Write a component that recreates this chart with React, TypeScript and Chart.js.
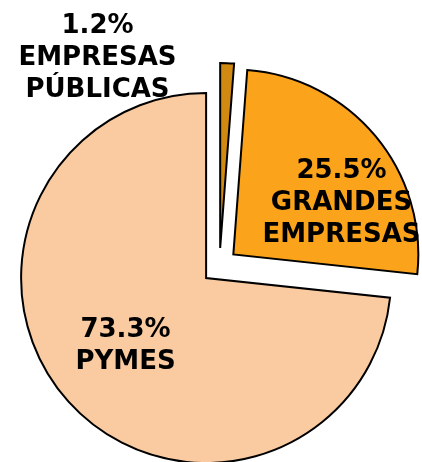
import React, { useEffect, useRef } from 'react';
import { Chart, PieController, ArcElement } from 'chart.js';

// ---- data ----
const categories = ['EMPRESAS PÚBLICAS', 'GRANDES EMPRESAS', 'PYMES'];
const values = [1.2, 25.5, 73.3];
const colors = ['#D08A12', '#FBA31A', '#FACBA0'];
const explode = [18, 18, 18];

// label block centres relative to pie centre (layout, not data)
const labelShift = [
  { dx: -122, dy: -210 },
  { dx: 122, dy: -65 },
  { dx: -94, dy: 78 },
];

// Make the arc offset a plain pull-out of `offset` px along the bisector
const baseDraw = ArcElement.prototype.draw;
(ArcElement.prototype as any).draw = function (ctx: CanvasRenderingContext2D) {
  const self: any = this;
  const opts = self.options;
  const off = opts.offset || 0;
  const half = (self.startAngle + self.endAngle) / 2;
  ctx.save();
  ctx.translate(Math.cos(half) * off, Math.sin(half) * off);
  self.options = { ...opts, offset: 0 };
  baseDraw.call(self, ctx);
  self.options = opts;
  ctx.restore();
};

Chart.register(PieController, ArcElement);

const FONT_SIZE = 26;
const LINE = 32;

const labelPlugin = {
  id: 'sliceLabels',
  afterDatasetsDraw(chart: any) {
    const ctx: CanvasRenderingContext2D = chart.ctx;
    const meta = chart.getDatasetMeta(0);
    ctx.save();
    ctx.font = `bold ${FONT_SIZE}px "DejaVu Sans", Verdana, sans-serif`;
    ctx.fillStyle = '#000';
    ctx.textAlign = 'center';
    ctx.textBaseline = 'alphabetic';
    const capHalf = (FONT_SIZE * 0.729) / 2;
    meta.data.forEach((el: any, i: number) => {
      const lines = [`${values[i].toFixed(1)}%`, ...categories[i].split(' ')];
      const cx = el.x + labelShift[i].dx;
      const cy = el.y + labelShift[i].dy;
      const start = cy - ((lines.length - 1) * LINE) / 2;
      lines.forEach((t, j) => {
        ctx.fillText(t, cx, start + j * LINE + capHalf);
      });
    });
    ctx.restore();
  },
};

export default function App() {
  const ref = useRef<HTMLCanvasElement | null>(null);
  useEffect(() => {
    if (!ref.current) return;
    const chart = new Chart(ref.current, {
      type: 'pie',
      data: {
        labels: categories,
        datasets: [
          {
            data: values,
            backgroundColor: colors,
            borderColor: '#000',
            borderWidth: 2,
            borderJoinStyle: 'miter',
            offset: explode,
            radius: 185,
          } as any,
        ],
      },
      options: {
        responsive: false,
        animation: false,
        devicePixelRatio: 1,
        events: [],
        layout: { padding: { left: 17, right: 0, top: 70, bottom: 0 } },
        plugins: { legend: { display: false }, tooltip: { enabled: false } },
      } as any,
      plugins: [labelPlugin],
    });
    return () => chart.destroy();
  }, []);
  return (
    <div style={{ position: 'absolute', left: 0, top: 0, width: 422, height: 462, background: '#fff' }}>
      <canvas ref={ref} width={422} height={462} />
    </div>
  );
}
